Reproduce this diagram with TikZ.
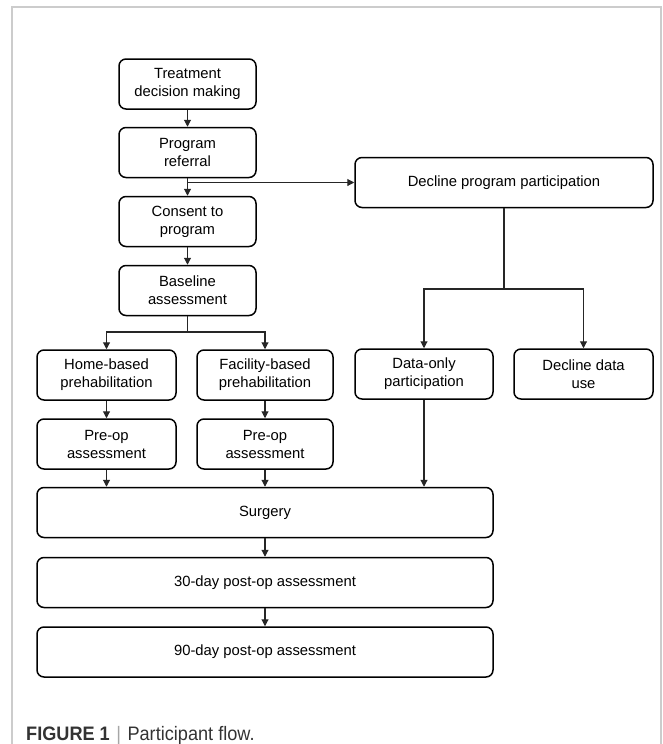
\documentclass[tikz,border=0pt]{standalone}
\usepackage{fontspec}
\setmainfont{Liberation Sans}
\usepackage{xcolor}
\usetikzlibrary{arrows.meta}

\begin{document}
\begin{tikzpicture}[x=1pt,y=-1pt,
        flowbox/.style={draw,line width=1.5pt,rounded corners=7pt,align=center,inner sep=0pt,minimum height=50pt,font=\fontsize{14.8}{18}\selectfont},
        link/.style={line width=1.1pt,black!85},
        arr/.style={link,-{Triangle[length=7pt,width=7pt]}}]
        \useasboundingbox (0,0) rectangle (662,744);
        \draw[line width=2pt,black!20] (12,744) -- (12,7) -- (661,7) -- (661,744);
        % left column
        \node[flowbox,minimum width=137pt] (treat) at (187.5,84) {Treatment\\decision making};
        \node[flowbox,minimum width=137pt] (refer) at (187.5,152.5) {Program\\referral};
        \node[flowbox,minimum width=137pt] (consent) at (187.5,221.5) {Consent to\\program};
        \node[flowbox,minimum width=137pt] (base) at (187.5,290.5) {Baseline\\assessment};
        \node[flowbox,minimum width=139pt] (home) at (106.5,375) {Home-based\\prehabilitation};
        \node[flowbox,minimum width=136pt] (facil) at (265,375) {Facility-based\\prehabilitation};
        \node[flowbox,minimum width=139pt] (preA) at (106.5,444) {Pre-op\\assessment};
        \node[flowbox,minimum width=136pt] (preB) at (265,444) {Pre-op\\assessment};
        % right column
        \node[flowbox,minimum width=298pt] (decline) at (504,182.5) {Decline program participation};
        \node[flowbox,minimum width=138pt] (donly) at (424,374) {Data-only\\participation};
        \node[flowbox,minimum width=139pt] (ddata) at (583.5,374) {Decline data\\use};
        % bottom
        \node[flowbox,minimum width=456pt] (surg) at (265,512.5) {Surgery};
        \node[flowbox,minimum width=456pt] (post30) at (265,582.5) {30-day post-op assessment};
        \node[flowbox,minimum width=456pt] (post90) at (265,652) {90-day post-op assessment};
        \node[anchor=base west,inner sep=0pt,text=black!80] (caption) at (26,740) {\scalebox{0.93}[1]{\fontsize{19.5}{22}\selectfont\textbf{FIGURE 1}\hspace{7pt}{\color{black!35}|}\hspace{7pt}Participant flow.}};
        % junctions
        \coordinate (splitR) at (refer.south |- decline.west);
        \coordinate (splitB) at (187.5,332);
        \coordinate (splitD) at (504,289);
        \draw[arr] (treat) -- (refer);
        \draw[arr] (refer) -- (consent);
        \draw[arr] (splitR) -- (decline);
        \draw[arr] (consent) -- (base);
        \draw[link] (base) -- (splitB);
        \draw[arr] (splitB) -| (home);
        \draw[arr] (splitB) -| (facil);
        \draw[arr] (home) -- (preA);
        \draw[arr] (facil) -- (preB);
        \draw[link] (decline) -- (splitD);
        \draw[arr] (splitD) -| (donly);
        \draw[arr] (splitD) -| (ddata);
        \draw[arr] (preA.south) -- (preA.south |- surg.north);
        \draw[arr] (preB.south) -- (preB.south |- surg.north);
        \draw[arr] (donly.south) -- (donly.south |- surg.north);
        \draw[arr] (surg) -- (post30);
        \draw[arr] (post30) -- (post90);
    \end{tikzpicture}
\end{document}
